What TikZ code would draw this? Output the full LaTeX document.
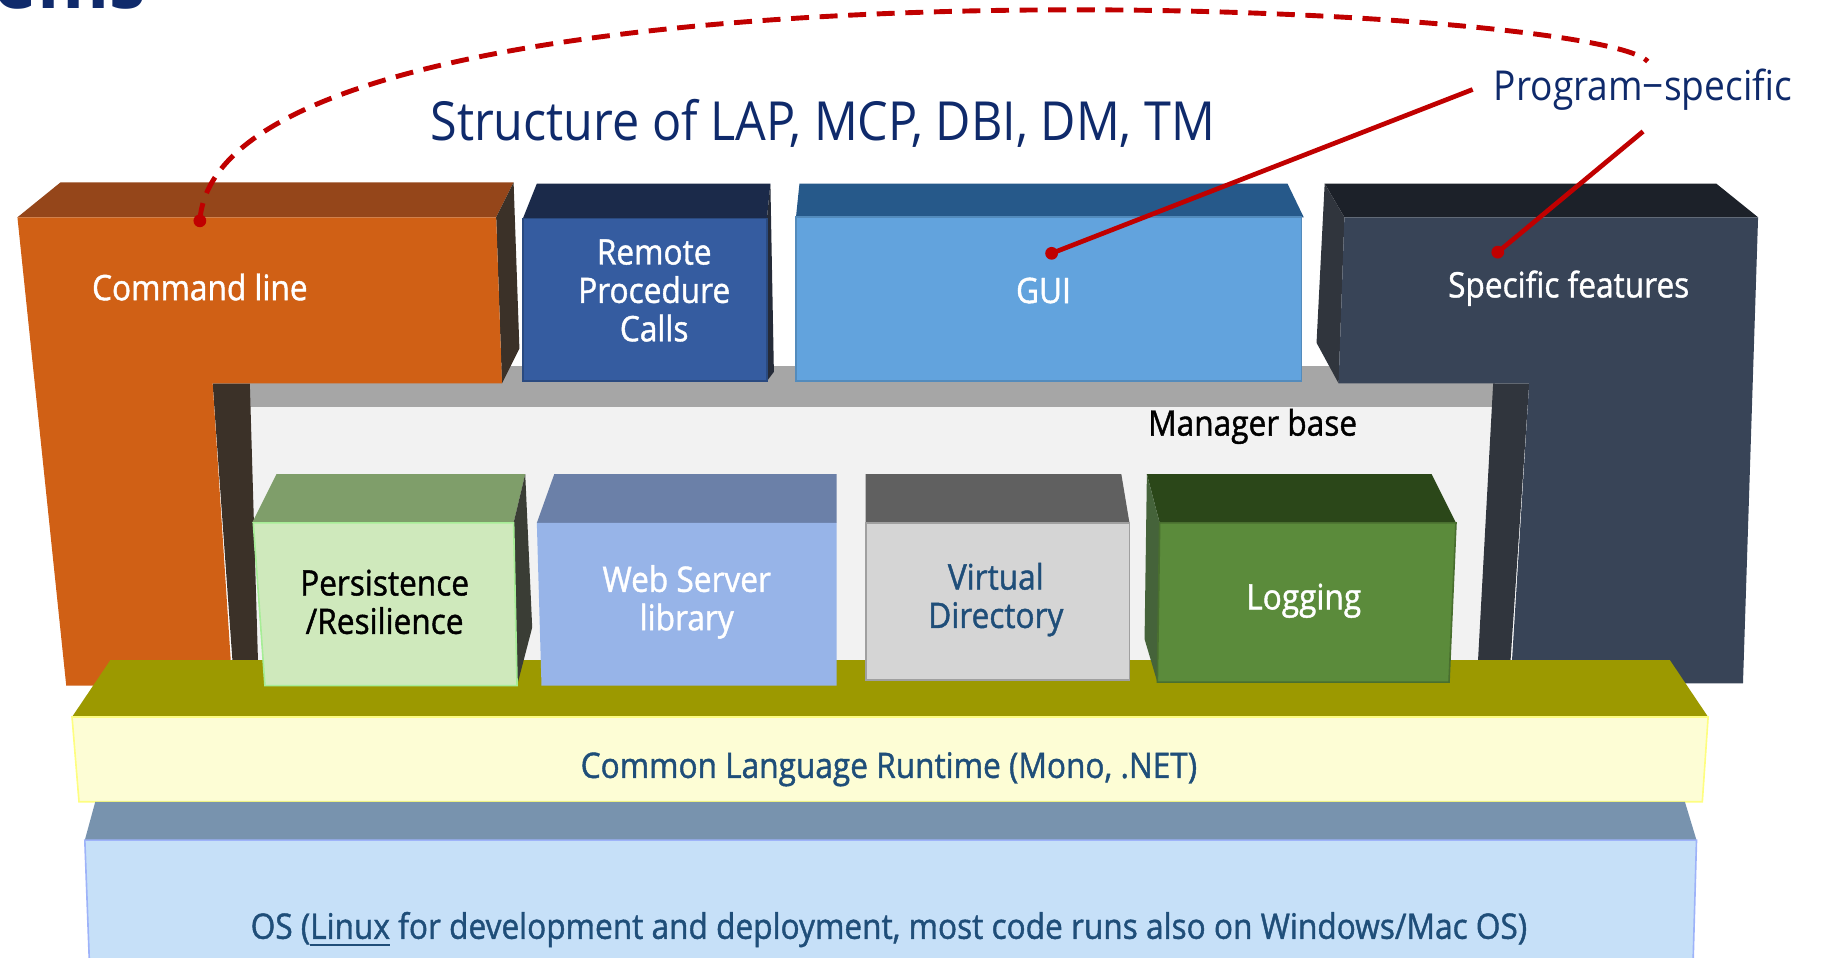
\documentclass[tikz,border=0pt]{standalone}
\usepackage{fontspec}
\setmainfont{Open Sans}[FakeStretch=0.9]
\newfontfamily\boxfont{Open Sans}[FakeStretch=0.9, FakeBold=1.2]
\usetikzlibrary{calc}

\begin{document}
\begin{tikzpicture}[x=0.1mm, y=-0.1mm, font=\boxfont\fontsize{8.6}{9.4}\selectfont,
  lbl/.style={text=white, align=center, inner sep=0pt},
  redline/.style={draw=redmark, line width=1.15pt},
  reddash/.style={draw=redmark, line width=1.2pt, dash pattern=on 4.4pt off 2.6pt}]
\definecolor{navy}{HTML}{0F2A6B}
\definecolor{textblue}{HTML}{1F4E79}
\definecolor{redmark}{HTML}{C00000}
\definecolor{cmdfront}{HTML}{D06015}
\definecolor{cmdtop}{HTML}{95461A}
\definecolor{cmdside}{HTML}{3B3128}
\definecolor{rpcfront}{HTML}{355CA0}
\definecolor{rpctop}{HTML}{1B2A4A}
\definecolor{rpcside}{HTML}{252B38}
\definecolor{guifront}{HTML}{62A3DD}
\definecolor{guitop}{HTML}{26598A}
\definecolor{specfront}{HTML}{384457}
\definecolor{spectop}{HTML}{1C2129}
\definecolor{specside}{HTML}{30353D}
\definecolor{basetop}{HTML}{A6A6A6}
\definecolor{basefront}{HTML}{F2F2F2}
\definecolor{persfront}{HTML}{CFE9BC}
\definecolor{perstop}{HTML}{7F9E6A}
\definecolor{persside}{HTML}{3A3D35}
\definecolor{webfront}{HTML}{97B4E8}
\definecolor{webtop}{HTML}{6B80A8}
\definecolor{vdirfront}{HTML}{D5D5D5}
\definecolor{vdirtop}{HTML}{606060}
\definecolor{logfront}{HTML}{5B8B3B}
\definecolor{logtop}{HTML}{2B4719}
\definecolor{logside}{HTML}{45633A}
\definecolor{clrtop}{HTML}{9C9900}
\definecolor{clrfront}{HTML}{FDFDD5}
\definecolor{ostop}{HTML}{7893AE}
\definecolor{osfront}{HTML}{C6E0F8}
\useasboundingbox (0,0) rectangle (1568,824);
\node[anchor=base west, text=navy, font=\fontsize{20}{20}\selectfont\bfseries, inner sep=0pt] (ems) at (-6,7) {ems};
\node[text=navy, font=\rmfamily\fontsize{13.2}{15}\selectfont] (title) at (708,106) {Structure of LAP, MCP, DBI, DM, TM};
\node[text=navy, font=\rmfamily\fontsize{10.1}{12}\selectfont, inner sep=5pt] (prog) at (1414,77) {Program−specific};
\fill[basetop] (215,315) rectangle (1287,350);
\fill[basefront] (215,350) rectangle (1285,570);
\node[inner sep=0pt] (mgr) at (1078,367) {Manager base};
\fill[cmdtop] (15,187) -- (52,157) -- (442,157) -- (427,187) -- cycle;
\fill[cmdside] (427,187) -- (442,157) -- (447,300) -- (432,330) -- cycle;
\fill[cmdside] (183,330) -- (215,330) -- (222,568) -- (200,568) -- cycle;
\fill[cmdfront] (15,187) -- (427,187) -- (432,330) -- (183,330) -- (200,590) -- (57,590) -- cycle;
\node[lbl] (cmd) at (172,247) {Command line};
\coordinate (cmddot) at (172,190);
\fill[spectop] (1140,158) -- (1477,158) -- (1513,187) -- (1157,187) -- cycle;
\fill[specside] (1140,158) -- (1157,187) -- (1152,330) -- (1133,295) -- cycle;
\fill[specside] (1285,330) -- (1316,330) -- (1300,568) -- (1272,568) -- cycle;
\fill[specfront] (1157,187) -- (1513,187) -- (1500,588) -- (1300,588) -- (1316,330) -- (1152,330) -- cycle;
\node[lbl] (spec) at (1350,248) {Specific features};
\coordinate (specdot) at (1289,217);
\fill[rpctop] (450,188) -- (462,158) -- (663,158) -- (660,188) -- cycle;
\fill[rpcside] (660,188) -- (663,158) -- (666,320) -- (660,328) -- cycle;
\filldraw[fill=rpcfront, draw=rpcfront!80!black] (450,188) rectangle (660,328);
\node[lbl] (rpc) at (563,250) {Remote\\Procedure\\Calls};
\fill[guitop] (685,187) -- (688,158) -- (1108,158) -- (1122,187) -- cycle;
\filldraw[fill=guifront, draw=guifront!85!black] (685,187) rectangle (1120,328);
\node[lbl] (gui) at (898,250) {GUI};
\coordinate (guidot) at (905,218);
\fill[clrtop] (95,568) -- (1437,568) -- (1470,617) -- (62,617) -- cycle;
\fill[perstop] (217,450) -- (238,408) -- (452,408) -- (442,450) -- cycle;
\fill[persside] (442,450) -- (452,408) -- (458,540) -- (445,590) -- cycle;
\filldraw[fill=persfront, draw=persfront!80!green] (218,450) -- (442,450) -- (445,590) -- (228,590) -- cycle;
\node[lbl, text=black] (pers) at (331,518) {Persistence\\/Resilience};
\fill[webtop] (462,450) -- (477,408) -- (720,408) -- (720,450) -- cycle;
\fill[webfront] (462,450) -- (720,450) -- (720,590) -- (466,590) -- cycle;
\node[lbl] (web) at (591,518) {Web Server\\library};
\fill[vdirtop] (745,450) -- (745,408) -- (965,408) -- (972,450) -- cycle;
\filldraw[fill=vdirfront, draw=vdirfront!75!black] (745,450) rectangle (972,585);
\node[lbl, text=textblue] (vdir) at (857,516) {Virtual\\Directory};
\fill[logtop] (987,408) -- (1232,408) -- (1253,450) -- (998,450) -- cycle;
\fill[logside] (987,408) -- (998,450) -- (996,587) -- (985,550) -- cycle;
\filldraw[fill=logfront, draw=logfront!80!black] (998,450) -- (1253,450) -- (1247,587) -- (996,587) -- cycle;
\node[lbl] (log) at (1122,517) {Logging};
\filldraw[fill=clrfront, draw=clrfront!60!yellow] (62,617) -- (1470,617) -- (1465,690) -- (68,690) -- cycle;
\node[lbl, text=textblue] (clr) at (765,662) {Common Language Runtime (Mono, .NET)};
\fill[ostop] (82,690) -- (1450,690) -- (1460,723) -- (73,723) -- cycle;
\filldraw[fill=osfront, draw=osfront!80!blue] (73,723) -- (1460,723) -- (1457,830) -- (77,830) -- cycle;
\node[lbl, text=textblue] (os) at (765,800) {OS (\underline{Linux} for development and deployment, most code runs also on Windows/Mac OS)};
\draw[reddash] (cmddot) .. controls (189,-52) and (1370,0) .. ($(prog.north)+(4,12)$);
\draw[redline] (prog.west) -- (guidot);
\draw[redline] (prog.south) -- (specdot);
\foreach \d in {cmddot,guidot,specdot}{\fill[redmark] (\d) circle (5.5);}
\end{tikzpicture}
\end{document}
